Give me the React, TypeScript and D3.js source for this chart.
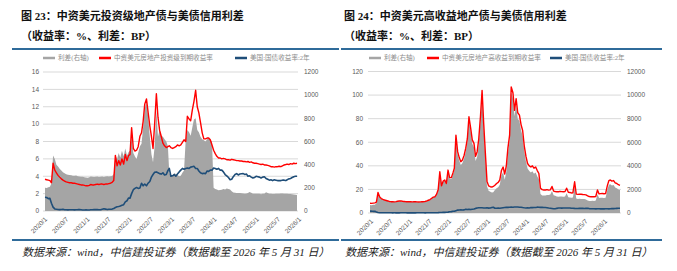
import React from 'react';
import * as d3 from 'd3';

const W = 677;
const H = 271;

// observations: 1st and 16th of every month from 2020/1, closing on 2026/5/31
const dates: Date[] = d3
  .range(77)
  .flatMap((m) => [new Date(2020, m, 1), new Date(2020, m, 16)])
  .concat([new Date(2026, 4, 31)]);

const xTickLabels = ['2020/1', '2020/7', '2021/1', '2021/7', '2022/1', '2022/7', '2023/1', '2023/7', '2024/1', '2024/7', '2025/1', '2025/7', '2026/1'];

// US 2Y treasury yield (%), shared by both charts
const ust2y = [
  1.58, 1.55, 1.42, 1.45, 0.9, 0.45, 0.24, 0.21, 0.18, 0.16, 0.18, 0.2, 0.15, 0.15, 0.13, 0.15, 0.14, 0.14, 0.13, 0.15, 0.16, 0.18, 0.15, 0.12,
  0.12, 0.13, 0.11, 0.12, 0.14, 0.15, 0.17, 0.16, 0.16, 0.15, 0.14, 0.2, 0.25, 0.22, 0.18, 0.21, 0.21, 0.22, 0.28, 0.4, 0.48, 0.52, 0.57, 0.65,
  0.73, 1.05, 1.18, 1.5, 1.48, 2.0, 2.45, 2.6, 2.7, 2.6, 2.65, 3.2, 2.9, 3.1, 2.9, 3.2, 3.4, 3.9, 4.2, 4.45, 4.5, 4.4, 4.3, 4.25,
  4.4, 4.15, 4.2, 4.65, 4.9, 4.0, 4.05, 4.2, 4.0, 4.25, 4.5, 4.7, 4.9, 4.8, 4.9, 4.95, 4.9, 5.05, 5.1, 5.15, 4.9, 4.9, 4.6, 4.4,
  4.3, 4.35, 4.3, 4.6, 4.55, 4.7, 4.7, 4.95, 4.9, 4.8, 4.9, 4.7, 4.7, 4.5, 4.2, 4.05, 3.85, 3.6, 3.65, 3.95, 4.2, 4.3, 4.15, 4.25,
  4.28, 4.3, 4.2, 4.25, 4.0, 4.05, 3.9, 3.8, 3.85, 4.0, 3.95, 3.9, 3.8, 3.9, 3.95, 3.75, 3.65, 3.55, 3.6, 3.5, 3.6, 3.55, 3.5, 3.5,
  3.5, 3.55, 3.55, 3.5, 3.6, 3.7, 3.75, 3.85, 3.95, 4.0, 4.0,
];

// China USD property bonds, investment grade: yield to maturity (%)
const igYield = [
  3.65, 3.6, 3.55, 3.5, 3.25, 5.5, 4.7, 4.4, 4.1, 3.9, 3.7, 3.55, 3.45, 3.35, 3.3, 3.25, 3.25, 3.2, 3.2, 3.15, 3.1, 3.05, 3.0, 3.0,
  2.95, 2.9, 2.9, 2.95, 3.05, 3.0, 3.0, 3.05, 3.1, 3.05, 3.1, 3.1, 3.05, 3.1, 3.1, 3.15, 3.2, 3.3, 3.5, 6.4, 5.2, 5.8, 5.3, 6.0,
  5.4, 6.5, 5.8, 6.4, 6.5, 9.6, 7.2, 6.9, 7.0, 7.4, 8.6, 9.0, 10.3, 12.3, 12.9, 11.4, 9.8, 8.6, 7.2, 10.0, 13.5, 10.8, 9.3, 8.6,
  7.8, 7.5, 7.3, 7.4, 7.5, 7.3, 7.2, 7.3, 7.4, 7.6, 7.5, 7.6, 7.9, 8.2, 8.0, 10.9, 10.6, 10.4, 11.6, 12.6, 13.9, 12.0, 11.3, 10.2,
  9.0, 8.3, 8.3, 8.4, 8.4, 8.2, 7.6, 7.0, 6.6, 6.3, 6.1, 6.1, 6.0, 6.05, 6.0, 5.9, 5.9, 5.85, 5.95, 5.9, 5.85, 5.8, 5.8, 5.75,
  5.75, 5.7, 5.7, 5.65, 5.7, 5.6, 5.65, 5.55, 5.5, 5.5, 5.45, 5.4, 5.35, 5.4, 5.3, 5.3, 5.25, 5.2, 5.1, 5.1, 5.05, 5.1, 5.1, 5.15,
  5.1, 5.2, 5.3, 5.35, 5.4, 5.35, 5.45, 5.4, 5.5, 5.45, 5.5,
];

// investment grade spread (bp, right axis)
const igSpread = [
  200, 198, 205, 210, 240, 480, 450, 400, 385, 365, 350, 335, 325, 318, 312, 310, 308, 305, 304, 306, 300, 298, 296, 295,
  292, 290, 288, 292, 298, 295, 294, 296, 298, 294, 296, 298, 294, 297, 300, 298, 300, 302, 320, 480, 450, 500, 460, 520,
  470, 540, 480, 510, 520, 640, 500, 470, 450, 500, 560, 580, 720, 880, 940, 820, 640, 490, 420, 560, 870, 640, 700, 650,
  640, 620, 600, 560, 330, 300, 310, 325, 320, 310, 300, 305, 330, 350, 620, 700, 680, 650, 720, 790, 800, 700, 680, 640,
  620, 610, 600, 620, 630, 610, 600, 200, 190, 185, 180, 182, 184, 190, 185, 195, 190, 185, 170, 160, 158, 155, 156, 155,
  154, 152, 150, 152, 155, 165, 158, 150, 148, 150, 150, 148, 145, 148, 150, 162, 155, 150, 148, 146, 147, 148, 150, 150,
  152, 152, 150, 148, 150, 147, 146, 144, 142, 140, 138,
];

// China USD property bonds, high yield: yield to maturity (%)
const hyYield = [
  8.3, 8.2, 8.4, 8.6, 9.2, 17.5, 13.5, 12.2, 11.5, 11.0, 10.6, 10.2, 9.8, 9.6, 9.5, 9.4, 9.6, 10.0, 10.2, 10.3, 10.0, 9.8, 9.6, 9.5,
  9.6, 9.5, 9.4, 9.5, 9.6, 9.4, 9.3, 9.4, 9.5, 9.6, 9.8, 10.2, 10.8, 11.4, 12.5, 13.5, 13.8, 16.0, 20.0, 35.0, 23.0, 27.0, 28.0, 25.0,
  36.4, 30.0, 30.0, 34.0, 38.0, 66.0, 52.0, 47.0, 43.5, 45.0, 49.0, 55.0, 63.0, 81.6, 72.0, 62.0, 59.0, 48.0, 52.0, 63.0, 82.0, 104.0, 76.0, 52.0,
  27.0, 23.0, 22.3, 22.0, 22.5, 23.5, 25.0, 26.0, 28.0, 36.0, 39.0, 33.0, 40.0, 55.0, 66.0, 107.0, 102.0, 87.0, 97.0, 85.0, 83.0, 75.0, 70.0, 57.0,
  48.0, 42.0, 40.0, 39.0, 40.0, 38.0, 39.0, 36.0, 33.5, 21.0, 19.8, 19.5, 19.5, 19.8, 19.4, 19.6, 22.5, 18.6, 18.2, 18.0, 18.0, 18.3, 18.1, 18.0,
  18.2, 21.0, 17.6, 17.4, 17.0, 17.2, 26.5, 16.0, 15.8, 16.0, 15.9, 15.7, 15.6, 15.4, 14.6, 14.0, 13.8, 13.9, 13.8, 14.0, 19.5, 16.2, 16.4, 16.5,
  16.3, 16.5, 23.0, 27.5, 28.0, 27.0, 27.5, 25.5, 25.0, 24.0, 23.5,
];

// high yield spread (bp, right axis)
const hySpread = [
  670, 660, 700, 710, 830, 1700, 1320, 1200, 1130, 1080, 1040, 1000, 965, 945, 940, 925, 945, 985, 1005, 1015, 985, 960, 945, 940,
  950, 935, 930, 940, 945, 925, 915, 925, 935, 945, 965, 1000, 1055, 1120, 1230, 1330, 1360, 1580, 1970, 3460, 2250, 2650, 2740, 2440,
  3570, 2900, 2880, 3250, 3650, 6400, 4960, 4440, 4080, 4240, 4640, 5180, 6010, 7850, 6910, 5880, 5560, 4410, 4780, 5860, 7750, 9960, 7170, 4780,
  2260, 1880, 1810, 1740, 1760, 1950, 2100, 2180, 2400, 3180, 3450, 2830, 3510, 5020, 6110, 10200, 9710, 8200, 9190, 7990, 7810, 7010, 6540, 5260,
  4370, 3770, 3570, 3440, 3550, 3330, 3430, 3100, 2860, 1620, 1490, 1480, 1480, 1530, 1520, 1560, 1870, 1500, 1460, 1400, 1380, 1400, 1395, 1375,
  1390, 1670, 1340, 1315, 1300, 1315, 2260, 1220, 1195, 1200, 1195, 1180, 1180, 1150, 1065, 1025, 1015, 1035, 1020, 1050, 1590, 1265, 1290, 1300,
  1280, 1295, 1945, 2400, 2440, 2330, 2375, 2165, 2105, 2000, 1950,
];

const igLeftTicks = [0, 2, 4, 6, 8, 10, 12, 14, 16];
const igRightTicks = [0, 200, 400, 600, 800, 1000, 1200];
const hyLeftTicks = [0, 20, 40, 60, 80, 100, 120];
const hyRightTicks = [0, 2000, 4000, 6000, 8000, 10000, 12000];

const serif = "'Liberation Serif', 'Times New Roman', 'Noto Sans CJK SC', serif";
const sans = "'Liberation Sans', Arial, 'Noto Sans CJK SC', sans-serif";

const GRAY = '#a5a5a5';
const RED = '#ff0000';
const BLUE = '#1f4e79';
const RULE = '#2f6b9a';

type PanelProps = {
  title: string;
  subtitle: string;
  legend: string[];
  legendX: number[];
  headX: number;
  rule: [number, number];
  x0: number;
  x1: number;
  yTop: number;
  yBottom: number;
  labelSpan: [number, number];
  leftTicks: number[];
  rightTicks: number[];
  leftLabelX: number;
  rightLabelX: number;
  yieldSeries: number[];
  spreadSeries: number[];
};

function Panel(p: PanelProps) {
  const x = d3.scaleTime().domain([dates[0], dates[dates.length - 1]]).range([p.x0, p.x1]);
  const yL = d3.scaleLinear().domain([0, p.leftTicks[p.leftTicks.length - 1]]).range([p.yBottom, p.yTop]);
  const yR = d3.scaleLinear().domain([0, p.rightTicks[p.rightTicks.length - 1]]).range([p.yBottom, p.yTop]);
  // category-style date labels, evenly spread along the bottom
  const xl = d3.scalePoint<string>().domain(xTickLabels).range(p.labelSpan);

  const area = d3
    .area<number>()
    .x((_, i) => x(dates[i]))
    .y0(p.yBottom)
    .y1((d) => yR(d));
  const line = d3
    .line<number>()
    .x((_, i) => x(dates[i]))
    .y((d) => yL(d));

  const legendColors = [GRAY, RED, BLUE];

  return (
    <g>
      <text x={p.headX} y={20} fontFamily={serif} fontWeight="bold" fontSize={11} fill="#111">
        {p.title}
      </text>
      <text x={p.headX} y={39.5} fontFamily={serif} fontWeight="bold" fontSize={11} fill="#111">
        {p.subtitle}
      </text>
      <line x1={p.rule[0]} x2={p.rule[1]} y1={49} y2={49} stroke={RULE} strokeWidth={2} />

      {p.legend.map((label, i) => (
        <g key={label} transform={`translate(${p.legendX[i]},58)`}>
          <line x1={0} x2={12} y1={0} y2={0} stroke={legendColors[i]} strokeWidth={2.5} />
          <text x={15} y={0} dy="0.35em" fontFamily={serif} fontSize={6.6} fill="#8c8c8c">
            {label}
          </text>
        </g>
      ))}

      {p.leftTicks.map((t) => (
        <line key={t} x1={p.x0 - 2} x2={p.x1 + 1} y1={yL(t)} y2={yL(t)} stroke="#d9d9d9" strokeWidth={1} />
      ))}

      <path d={area(p.spreadSeries) ?? ''} fill={GRAY} />
      <path d={line(p.yieldSeries) ?? ''} fill="none" stroke={RED} strokeWidth={1.4} strokeLinejoin="round" />
      <path d={line(ust2y) ?? ''} fill="none" stroke={BLUE} strokeWidth={1.6} strokeLinejoin="round" />

      {p.leftTicks.map((t) => (
        <text key={t} x={p.leftLabelX} y={yL(t)} dy="0.35em" textAnchor="end" fontFamily={sans} fontSize={6.5} fill="#595959">
          {t}
        </text>
      ))}
      {p.rightTicks.map((t) => (
        <text key={t} x={p.rightLabelX} y={yR(t)} dy="0.35em" fontFamily={sans} fontSize={6.5} fill="#595959">
          {t}
        </text>
      ))}

      {xTickLabels.map((label) => (
        <text
          key={label}
          transform={`translate(${xl(label)},${p.yBottom + 7}) rotate(-45)`}
          dy="0.35em"
          textAnchor="end"
          fontFamily={sans}
          fontSize={6.5}
          fill="#595959"
        >
          {label}
        </text>
      ))}

      <line x1={p.rule[0]} x2={p.rule[1]} y1={240} y2={240} stroke={RULE} strokeWidth={2} />
      <text x={p.headX + 1} y={256} fontFamily={serif} fontStyle="italic" fontSize={11} fill="#222">
        数据来源：wind，中信建投证券（数据截至 2026 年 5 月 31 日）
      </text>
    </g>
  );
}

export default function App() {
  return (
    <svg width={W} height={H} style={{ position: 'absolute', left: 0, top: 0, background: '#fff' }}>
      <Panel
        title="图 23：中资美元投资级地产债与美债信用利差"
        subtitle="（收益率：%、利差：BP）"
        legend={['利差(右轴)', '中资美元房地产投资级到期收益率', '美国:国债收益率:2年']}
        legendX={[43, 99, 235]}
        headX={21}
        rule={[12, 339]}
        x0={45}
        x1={297}
        yTop={72}
        yBottom={211}
        labelSpan={[46, 300]}
        leftTicks={igLeftTicks}
        rightTicks={igRightTicks}
        leftLabelX={39}
        rightLabelX={304}
        yieldSeries={igYield}
        spreadSeries={igSpread}
      />
      <Panel
        title="图 24：中资美元高收益地产债与美债信用利差"
        subtitle="（收益率：%、利差：BP）"
        legend={['利差(右轴)', '中资美元房地产高收益到期收益率', '美国:国债收益率:2年']}
        legendX={[369, 427, 550]}
        headX={344}
        rule={[341, 662]}
        x0={370}
        x1={620}
        yTop={71.5}
        yBottom={213}
        labelSpan={[372, 606]}
        leftTicks={hyLeftTicks}
        rightTicks={hyRightTicks}
        leftLabelX={363}
        rightLabelX={627}
        yieldSeries={hyYield}
        spreadSeries={hySpread}
      />
    </svg>
  );
}
